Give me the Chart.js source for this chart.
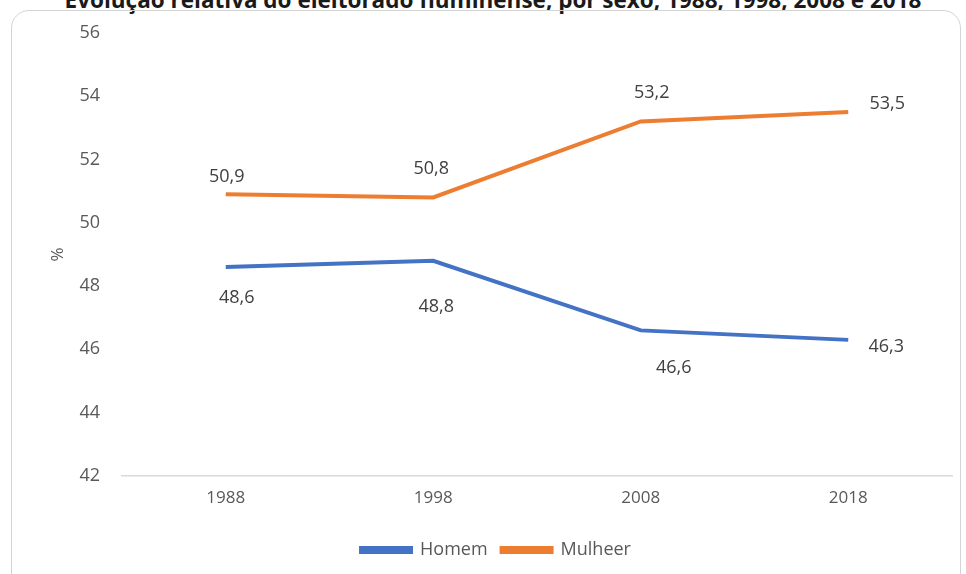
<!DOCTYPE html>
<html>
<head>
<meta charset="utf-8">
<script src="https://cdn.jsdelivr.net/npm/chart.js@4.4.1/dist/chart.umd.min.js"></script>
<style>
  html, body { margin: 0; padding: 0; background: #fff; }
  body { width: 966px; height: 574px; position: relative; overflow: hidden; font-family: "Open Sans", sans-serif; }
  #title { position: absolute; top: -16px; left: 0; width: 966px; padding-left: 20px; box-sizing: border-box; text-align: center; font-weight: bold; font-size: 22.5px; color: #1a1a1a; white-space: nowrap; }
  #frame { position: absolute; left: 11px; top: 10px; width: 948px; height: 580px; border: 1.5px solid #d4d4d4; border-radius: 18px; }
  #wrap { position: absolute; left: 0; top: 0; width: 966px; height: 574px; }
</style>
</head>
<body>
<div id="title">Evolução relativa do eleitorado fluminense, por sexo, 1988, 1998, 2008 e 2018</div>
<div id="frame"></div>
<div id="wrap"><canvas id="chart"></canvas></div>
<script>
const years = ["1988", "1998", "2008", "2018"];
const homem = [48.6, 48.8, 46.6, 46.3];
const mulher = [50.9, 50.8, 53.2, 53.5];
const seriesNames = ["Homem", "Mulheer"];
const yTicks = [42, 44, 46, 48, 50, 52, 54, 56];

const labelColor = "#404040";
const fontFamily = "'Open Sans', sans-serif";

// deslocamento dos rótulos em relação ao ponto [dx, dy], como no original
const labelShift = [
  [[11, 31], [3, 46], [33, 37], [38, 7]],
  [[1, -17], [-2, -29], [11, -29], [39, -8]]
];

const pointLabels = {
  id: "pointLabels",
  afterDatasetsDraw(chart) {
    const ctx = chart.ctx;
    ctx.save();
    ctx.font = "18px " + fontFamily;
    ctx.fillStyle = labelColor;
    ctx.textAlign = "center";
    ctx.textBaseline = "middle";
    chart.data.datasets.forEach((ds, i) => {
      const meta = chart.getDatasetMeta(i);
      meta.data.forEach((pt, j) => {
        const txt = ds.data[j].toFixed(1).replace(".", ",");
        const [dx, dy] = labelShift[i][j];
        ctx.fillText(txt, pt.x + dx, pt.y + dy);
      });
    });
    ctx.restore();
  }
};

new Chart(document.getElementById("chart"), {
  type: "line",
  data: {
    labels: years,
    datasets: [
      { label: seriesNames[0], data: homem, borderColor: "#4472C4", backgroundColor: "#4472C4", borderWidth: 4, pointRadius: 0, tension: 0 },
      { label: seriesNames[1], data: mulher, borderColor: "#ED7D31", backgroundColor: "#ED7D31", borderWidth: 4, pointRadius: 0, tension: 0 }
    ]
  },
  options: {
    responsive: true,
    maintainAspectRatio: false,
    animation: false,
    layout: { padding: { top: 26, left: 40, right: 14, bottom: 5 } },
    plugins: {
      tooltip: { enabled: false },
      legend: {
        position: "bottom",
        labels: {
          boxWidth: 50,
          boxHeight: 4,
          padding: 14,
          color: "#595959",
          font: { size: 18, family: fontFamily }
        }
      }
    },
    scales: {
      x: {
        offset: true,
        grid: { display: false, drawTicks: false, offset: true },
        border: { display: true, color: "#d9d9d9", width: 1.5 },
        ticks: { color: "#595959", padding: 12, font: { size: 17, family: fontFamily } },
        afterFit: (s) => { s.height = 51; }
      },
      y: {
        min: 42,
        max: 56,
        afterBuildTicks: (s) => { s.ticks = yTicks.map((v) => ({ value: v })); },
        grid: { display: false, drawTicks: false },
        border: { display: false },
        ticks: { color: "#595959", padding: 22, font: { size: 18, family: fontFamily } },
        title: { display: true, text: "%", color: "#595959", padding: { top: 8, bottom: 0 }, font: { size: 17, family: fontFamily } },
        afterFit: (s) => { s.width = 82; }
      }
    }
  },
  plugins: [pointLabels]
});
</script>
</body>
</html>
